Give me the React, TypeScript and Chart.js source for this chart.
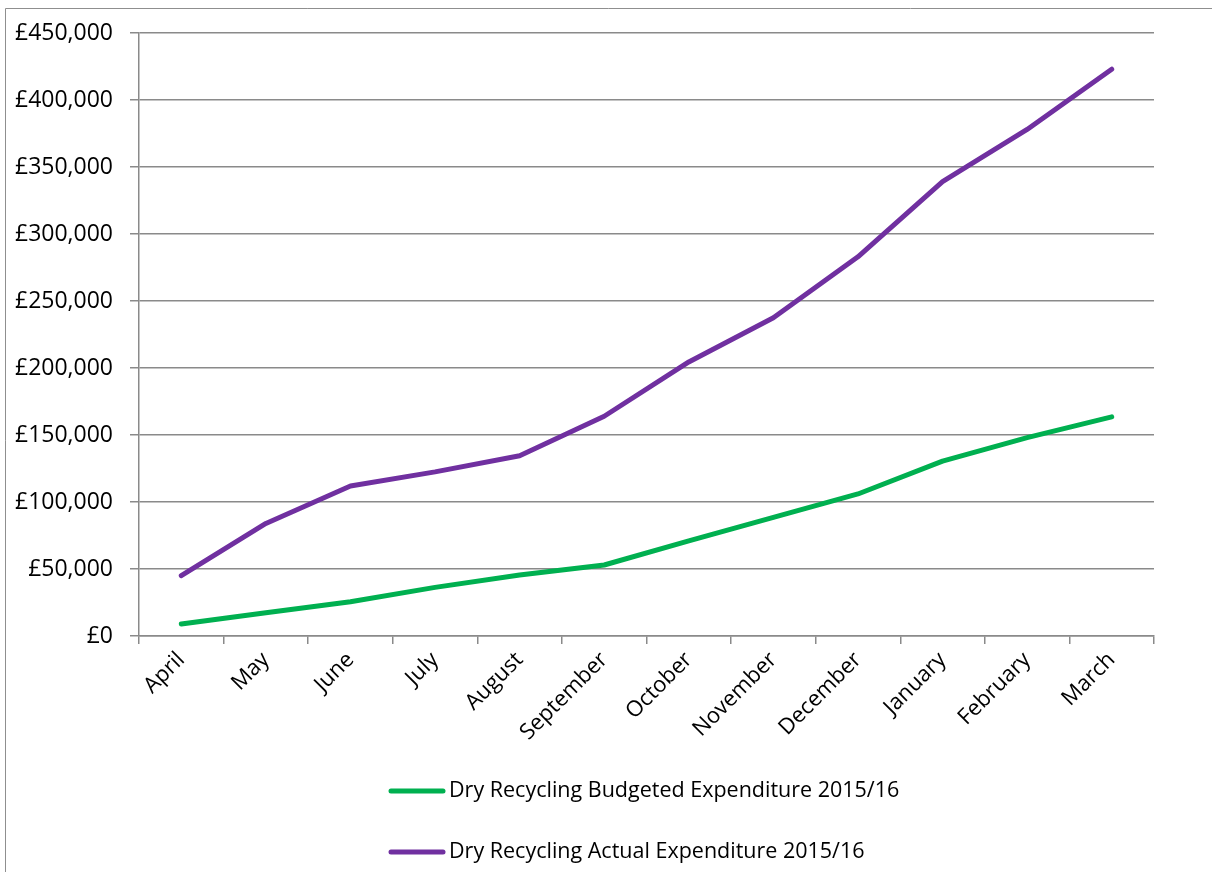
import React, { useEffect, useRef } from "react";
import { Chart, registerables } from "chart.js";

Chart.register(...registerables);

const months = [
  "April", "May", "June", "July", "August", "September",
  "October", "November", "December", "January", "February", "March",
];
const budgetedLabel = "Dry Recycling Budgeted Expenditure 2015/16";
const actualLabel = "Dry Recycling Actual Expenditure 2015/16";
const budgeted = [9000, 17400, 25600, 36300, 45500, 53000, 71000, 88500, 106000, 130500, 148000, 163500];
const actual = [45000, 84000, 112000, 122500, 134500, 164000, 204500, 237500, 283000, 339000, 378000, 423000];
const yMin = 0;
const yMax = 450000;
const yStep = 50000;

const FONT = "'Open Sans', 'Noto Sans', sans-serif";
const GRID = "#8a8a8a";

const framePlugin = {
  id: "frame",
  beforeDraw(chart: any) {
    const ctx = chart.ctx;
    ctx.save();
    ctx.strokeStyle = "#8f8f8f";
    ctx.lineWidth = 1;
    ctx.beginPath();
    ctx.moveTo(5.5, chart.height);
    ctx.lineTo(5.5, 8.5);
    ctx.lineTo(chart.width, 8.5);
    ctx.stroke();
    ctx.restore();
  },
};

const legendPlugin = {
  id: "stackedLegend",
  afterDraw(chart: any) {
    const ctx = chart.ctx;
    ctx.save();
    chart.data.datasets.forEach((ds: any, i: number) => {
      const y = 791 + i * 61;
      ctx.strokeStyle = ds.borderColor;
      ctx.lineWidth = 5;
      ctx.lineCap = "round";
      ctx.beginPath();
      ctx.moveTo(391, y);
      ctx.lineTo(443, y);
      ctx.stroke();
      ctx.fillStyle = "#000";
      ctx.font = `21.5px ${FONT}`;
      ctx.textBaseline = "middle";
      ctx.textAlign = "left";
      ctx.fillText(ds.label, 449, y);
    });
    ctx.restore();
  },
};

export default function App() {
  const ref = useRef<HTMLCanvasElement | null>(null);
  useEffect(() => {
    if (!ref.current) return;
    const chart = new Chart(ref.current, {
      type: "line",
      data: {
        labels: months,
        datasets: [
          {
            label: budgetedLabel,
            data: budgeted,
            borderColor: "#00B050",
            backgroundColor: "#00B050",
            borderWidth: 5,
            borderCapStyle: "round",
            borderJoinStyle: "round",
            pointRadius: 0,
            tension: 0,
          },
          {
            label: actualLabel,
            data: actual,
            borderColor: "#7030A0",
            backgroundColor: "#7030A0",
            borderWidth: 5,
            borderCapStyle: "round",
            borderJoinStyle: "round",
            pointRadius: 0,
            tension: 0,
          },
        ],
      },
      options: {
        responsive: false,
        animation: false,
        devicePixelRatio: 1,
        layout: { padding: { top: 33, right: 58, bottom: 0, left: 0 } },
        plugins: {
          legend: { display: false },
          tooltip: { enabled: false },
        },
        scales: {
          x: {
            offset: true,
            grid: {
              offset: true,
              drawOnChartArea: false,
              drawTicks: true,
              tickLength: 8,
              color: GRID,
              lineWidth: 1.5,
            },
            border: { display: true, color: GRID, width: 1.5 },
            ticks: {
              autoSkip: false,
              minRotation: 45,
              maxRotation: 45,
              padding: 3,
              color: "#000",
              font: { family: FONT, size: 22 },
            },
            afterFit(scale: any) {
              scale.height = 236;
            },
          },
          y: {
            min: yMin,
            max: yMax,
            grid: {
              drawOnChartArea: true,
              drawTicks: true,
              tickLength: 9,
              color: GRID,
              lineWidth: 1.5,
            },
            border: { display: true, color: GRID, width: 1.5 },
            ticks: {
              stepSize: yStep,
              padding: 17,
              color: "#000",
              font: { family: FONT, size: 23 },
              callback: (v: any) => "£" + Number(v).toLocaleString("en-GB"),
            },
            afterFit(scale: any) {
              scale.width = 139;
            },
          },
        },
      },
      plugins: [framePlugin, legendPlugin],
    });
    return () => chart.destroy();
  }, []);
  return (
    <div style={{ position: "absolute", left: 0, top: 0, width: 1212, height: 872, overflow: "hidden", background: "#fff" }}>
      <canvas ref={ref} width={1212} height={872} style={{ display: "block" }} />
    </div>
  );
}
